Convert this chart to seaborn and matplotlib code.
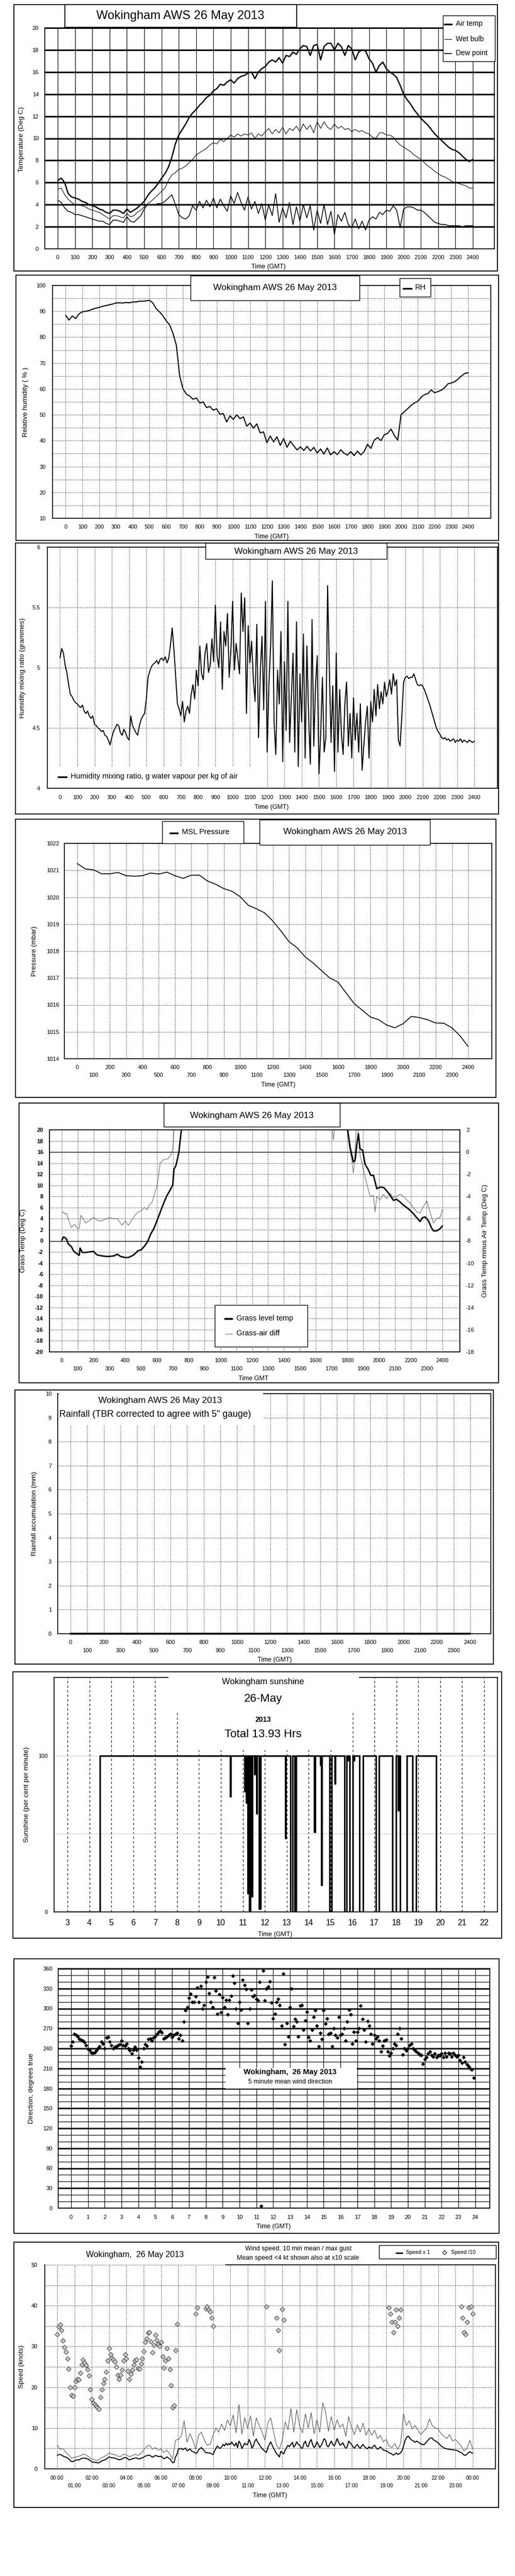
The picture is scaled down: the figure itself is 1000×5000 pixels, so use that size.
import numpy as np
import matplotlib
matplotlib.use("Agg")
import matplotlib.pyplot as plt
import seaborn as sns
from matplotlib.patches import Rectangle
from matplotlib.lines import Line2D

# ============================ DATA ============================
title_aws = "Wokingham AWS 26 May 2013"

# Panel 1: temperatures, one value every 20 units of the 0..2400 time axis
air_temp = [6.2, 6.4, 6.0, 5.0, 4.7, 4.6, 4.5, 4.3, 4.2, 4.0,
            3.9, 3.8, 3.6, 3.5, 3.3, 3.2, 3.5, 3.5, 3.4, 3.2,
            3.6, 3.3, 3.5, 3.7, 4.0, 4.3, 4.8, 5.2, 5.5, 5.9,
            6.4, 6.8, 7.4, 8.3, 9.5, 10.3, 10.8, 11.3, 11.9, 12.3,
            12.6, 13.0, 13.3, 13.7, 13.9, 14.3, 14.5, 14.9, 14.8, 15.1,
            15.3, 15.0, 15.4, 15.6, 15.7, 15.9, 16.0, 15.4, 16.0, 16.3,
            16.5, 16.9, 17.1, 16.9, 17.3, 16.8, 17.5, 17.4, 17.8, 17.6,
            18.1, 18.4, 18.3, 17.5, 18.4, 18.5, 17.1, 18.3, 18.6, 18.6,
            18.0, 18.6, 18.3, 17.5, 18.4, 18.1, 17.1, 17.8, 18.0, 17.9,
            17.2, 16.8, 16.0, 16.6, 16.9, 16.3, 16.0, 15.8, 15.5, 14.8,
            14.0, 13.5, 13.1, 12.6, 12.2, 11.8, 11.5, 11.2, 10.8, 10.4,
            10.1, 9.8, 9.5, 9.2, 9.0, 8.9, 8.7, 8.4, 8.1, 7.9, 8.1]
wet_bulb = [5.4, 5.5, 4.9, 4.5, 4.2, 4.0, 4.0, 3.9, 3.8, 3.6,
            3.5, 3.4, 3.3, 3.1, 2.9, 2.7, 3.0, 3.0, 2.9, 2.8,
            3.2, 2.9, 3.0, 3.3, 3.5, 3.8, 4.1, 4.3, 4.6, 4.9,
            5.2, 5.5, 6.2, 6.7, 6.9, 7.2, 7.3, 7.5, 7.8, 8.1,
            8.5, 8.7, 8.9, 9.1, 9.4, 9.6, 9.5, 9.9, 9.7, 10.0,
            10.3, 10.1, 10.4, 10.2, 10.4, 10.3, 10.5, 10.0, 10.4, 10.2,
            10.6, 10.9, 10.4, 10.8, 10.5, 11.0, 10.4, 10.9, 10.7, 11.1,
            10.6, 11.3, 10.8, 11.2, 10.5, 11.5, 10.9, 11.5, 11.0, 10.8,
            11.3, 10.9, 11.1, 10.8, 10.9, 10.6, 10.8, 10.6, 10.7, 10.5,
            10.4, 10.1, 10.0, 10.5, 10.5, 10.3, 10.3, 10.1, 9.7, 9.4,
            9.2, 9.0, 8.8, 8.5, 8.3, 8.1, 7.8, 7.5, 7.3, 7.0,
            6.8, 6.6, 6.5, 6.3, 6.1, 6.0, 5.9, 5.8, 5.7, 5.5, 5.5]
dew_point = [4.4, 4.2, 3.7, 3.4, 3.3, 3.1, 3.1, 3.0, 2.9, 2.8,
             2.7, 2.6, 2.5, 2.5, 2.3, 2.2, 2.6, 2.6, 2.5, 2.4,
             2.9, 2.5, 2.4, 2.7, 3.0, 3.6, 4.0, 4.0, 4.0, 4.1,
             4.1, 4.3, 4.6, 4.9, 4.0, 3.1, 2.8, 2.7, 3.0, 3.9,
             3.5, 4.3, 3.7, 4.4, 3.8, 4.6, 3.7, 4.5, 3.9, 3.4,
             4.8, 4.1, 5.1, 4.2, 3.5, 4.7, 3.6, 4.3, 3.2, 4.1,
             2.6, 4.0, 3.0, 5.0, 2.4, 3.7, 2.8, 4.2, 2.2, 3.8,
             2.5, 4.0, 2.8, 3.9, 1.7, 3.5, 2.3, 4.0, 2.2, 3.4,
             1.3, 3.1, 2.5, 3.3, 2.2, 1.9, 2.7, 1.8, 2.5, 1.7,
             2.6, 2.9, 2.7, 3.3, 3.1, 3.5, 3.4, 3.9, 3.5, 1.9,
             3.6, 3.8, 3.8, 3.7, 3.5, 3.5, 3.3, 3.0, 2.7, 2.4,
             2.3, 2.2, 2.2, 2.1, 2.1, 2.1, 2.1, 2.0, 2.1, 2.1, 2.1]

# Panel 2: relative humidity (%), every 20 units
rel_hum = [88.5, 86.6, 88.2, 87.2, 89.0, 89.8, 90.0, 90.3, 90.8, 91.2,
           91.5, 91.9, 92.2, 92.5, 92.8, 93.2, 93.3, 93.2, 93.4, 93.3,
           93.6, 93.6, 93.9, 93.9, 94.0, 94.3, 93.2, 91.0, 89.8, 88.3,
           86.3, 84.8, 81.5, 77.0, 65.0, 60.0, 58.0, 57.2, 56.0, 56.5,
           54.5, 55.0, 52.8, 53.2, 51.8, 52.3, 50.2, 50.5, 47.2, 49.6,
           48.2, 50.0, 48.5, 49.2, 45.6, 46.8, 44.8, 46.5, 43.0, 43.4,
           39.2, 41.8, 39.5, 41.5, 38.2, 40.8, 37.4, 39.8, 38.0, 36.4,
           37.6, 36.2, 37.8, 36.0, 37.4, 35.2, 36.8, 34.8, 37.2, 34.5,
           35.8, 34.6, 36.5, 35.2, 34.4, 35.8, 34.2, 36.0, 34.5, 35.8,
           38.6, 37.0, 40.2, 41.2, 40.0, 42.3, 42.8, 44.5, 42.0, 40.2,
           50.0, 51.2, 52.4, 53.6, 54.6, 55.2, 56.8, 57.8, 58.2, 59.6,
           58.5, 59.0, 59.5, 60.5, 62.0, 62.3, 62.8, 63.8, 65.0, 66.0, 66.2]

# Panel 3: humidity mixing ratio (g/kg), every 10 units
mix_ratio = [5.08, 5.16, 5.12, 5.02, 4.96, 4.86, 4.78, 4.76, 4.73, 4.71,
             4.70, 4.68, 4.67, 4.69, 4.64, 4.62, 4.64, 4.60, 4.58, 4.60,
             4.53, 4.52, 4.50, 4.49, 4.47, 4.48, 4.44, 4.43, 4.40, 4.36,
             4.42, 4.47, 4.50, 4.53, 4.52, 4.46, 4.44, 4.49, 4.46, 4.42,
             4.40, 4.60, 4.52, 4.49, 4.46, 4.44, 4.52, 4.57, 4.60, 4.62,
             4.74, 4.92, 4.97, 5.01, 5.03, 5.04, 5.06, 5.03, 5.07, 5.08,
             5.06, 5.09, 5.04, 5.08, 5.19, 5.33, 5.15, 4.93, 4.70, 4.66,
             4.60, 4.72, 4.55, 4.64, 4.68, 4.62, 4.78, 4.86, 4.74, 4.98,
             4.85, 5.18, 4.95, 4.90, 5.12, 5.20, 4.96, 5.02, 5.24, 5.05,
             5.52, 5.10, 5.00, 5.38, 4.82, 5.30, 5.18, 5.45, 4.92, 5.15,
             5.55, 4.98, 5.20, 5.08, 4.95, 5.62, 5.30, 5.58, 4.62, 5.35,
             5.04, 5.22, 4.90, 4.72, 5.36, 4.42, 4.95, 5.26, 4.65, 5.55,
             4.30, 4.85, 5.18, 5.72, 4.55, 4.28, 4.98, 4.70, 5.30, 4.22,
             5.05, 4.48, 5.55, 4.38, 4.75, 5.12, 4.30, 5.38, 4.18, 4.95,
             4.55, 5.28, 4.25, 5.18, 4.60, 4.20, 5.40, 4.35, 4.85, 5.10,
             4.12, 4.45, 4.92, 4.30, 4.42, 5.68, 5.00, 4.38, 4.85, 4.14,
             5.12, 4.30, 4.82, 4.45, 4.28, 4.70, 4.88, 4.35, 4.62, 4.25,
             4.75, 4.40, 4.62, 4.30, 4.70, 4.15, 4.36, 4.55, 4.68, 4.25,
             4.72, 4.55, 4.82, 4.60, 4.86, 4.66, 4.80, 4.70, 4.88, 4.76,
             4.82, 4.90, 4.78, 4.95, 4.85, 4.90, 4.40, 4.35, 4.60, 4.88,
             4.92, 4.93, 4.91, 4.92, 4.92, 4.95, 4.90, 4.86, 4.85, 4.86,
             4.85, 4.82, 4.78, 4.74, 4.70, 4.65, 4.60, 4.55, 4.50, 4.47,
             4.45, 4.42, 4.41, 4.42, 4.40, 4.41, 4.39, 4.40, 4.41, 4.38,
             4.40, 4.39, 4.41, 4.38, 4.40, 4.39, 4.38, 4.40, 4.39, 4.38, 4.39]

# Panel 4: MSL pressure (mbar), every 50 units
msl_pressure = [1021.25, 1021.05, 1021.02, 1020.87, 1020.87, 1020.92, 1020.80, 1020.78, 1020.80, 1020.90,
                1020.86, 1020.93, 1020.80, 1020.70, 1020.82, 1020.82, 1020.60, 1020.48, 1020.32, 1020.22,
                1020.02, 1019.70, 1019.57, 1019.42, 1019.12, 1018.75, 1018.35, 1018.12, 1017.78, 1017.55,
                1017.27, 1017.00, 1016.85, 1016.45, 1016.05, 1015.80, 1015.55, 1015.45, 1015.25, 1015.15,
                1015.30, 1015.57, 1015.53, 1015.45, 1015.33, 1015.32, 1015.15, 1014.85, 1014.45]

# Panel 5: grass temperature (left axis) and grass-air difference (right axis)
grass_am_t = [0, 10, 20, 30, 40, 50, 60, 70, 80, 100, 110, 115, 130, 150, 170, 200, 220, 250, 280, 300,
              330, 350, 370, 400, 420, 450, 480, 500, 520, 540, 560, 580, 600, 630, 660, 680, 700, 707,
              720, 738, 747, 760]
grass_am_v = [0.1, 0.7, 0.6, 0.3, -0.5, -0.8, -1.0, -1.6, -2.0, -2.4, -2.6, -1.3, -2.1, -2.1, -2.0, -1.9,
              -2.5, -2.7, -2.8, -2.8, -2.7, -2.4, -2.8, -3.0, -3.0, -2.6, -1.8, -1.6, -1.0, -0.2, 1.2, 2.2,
              3.6, 5.9, 8.0, 9.0, 10.1, 12.9, 13.6, 15.9, 18.3, 21.5]
grass_pm_t = [1795, 1817, 1838, 1849, 1860, 1870, 1880, 1897, 1912, 1933, 1948, 1965, 1986, 2007, 2030,
              2049, 2070, 2091, 2110, 2133, 2155, 2175, 2196, 2217, 2240, 2259, 2275, 2291, 2312, 2330,
              2343, 2364, 2385, 2400]
grass_pm_v = [21.5, 17.0, 14.2, 14.5, 17.3, 19.3, 16.6, 16.3, 13.8, 12.8, 11.8, 11.8, 9.4, 9.7, 9.6,
              9.0, 8.2, 7.3, 7.5, 7.0, 6.4, 6.0, 5.5, 4.9, 4.1, 3.5, 4.2, 4.3, 3.6, 2.4, 1.8, 1.8, 2.2, 2.7]
diff_am_t = [0, 10, 20, 30, 40, 50, 60, 80, 100, 110, 120, 150, 200, 230, 250, 300, 330, 350, 370, 380,
             400, 420, 450, 480, 500, 520, 540, 550, 570, 580, 590, 600, 610, 620, 640, 670, 690, 700,
             705, 712]
diff_am_v = [-5.5, -5.4, -5.6, -5.5, -6.0, -6.4, -6.8, -6.5, -6.9, -6.9, -5.7, -6.4, -5.9, -6.2, -6.2,
             -5.9, -6.0, -6.0, -6.4, -6.6, -6.2, -6.6, -5.9, -5.4, -5.3, -5.0, -5.2, -4.8, -4.5, -4.0,
             -3.5, -3.1, -2.1, -1.0, -0.7, -0.6, -0.2, 0.3, 1.5, 2.6]
diff_mid_t = [1703, 1712, 1721]
diff_mid_v = [2.4, 1.1, 2.4]
diff_pm_t = [1794, 1813, 1828, 1838, 1844, 1849, 1857, 1866, 1880, 1901, 1922, 1944, 1965, 1975, 1986,
             2007, 2028, 2049, 2070, 2090, 2112, 2133, 2154, 2175, 2196, 2217, 2238, 2259, 2280, 2301,
             2322, 2343, 2364, 2385, 2400]
diff_pm_v = [2.5, 0.5, -0.7, -1.9, -1.2, 0.0, 2.3, 2.3, -0.2, -1.6, -2.8, -4.0, -3.9, -5.4, -4.0,
             -4.3, -3.8, -4.2, -3.7, -4.1, -4.0, -3.8, -4.0, -4.3, -4.6, -5.0, -5.4, -5.5, -4.9, -4.4,
             -5.4, -6.4, -6.0, -5.9, -5.2]

# Panel 6: rainfall accumulation (mm)
rain_t = [0, 2400]
rain_mm = [0.0, 0.0]

# Panel 7: sunshine (% per minute), value held from each time (hours) to the next
sun_hour = [3.0, 4.47, 10.43, 10.45, 11.07, 11.10, 11.15, 11.18, 11.22, 11.26, 11.30, 11.34, 11.38, 11.42,
            11.53, 11.56, 11.62, 11.65, 11.73, 11.80, 12.93, 12.96, 13.18, 13.27, 13.35, 13.42,
            14.26, 14.29, 14.52, 14.55, 14.58, 14.61, 14.96, 15.05, 15.19, 15.22,
            15.64, 15.72, 15.76, 15.79, 15.86, 16.02, 16.05, 16.08, 16.32, 16.48, 17.06, 17.20,
            17.82, 17.98, 18.08, 18.12, 18.16, 18.48, 18.73, 18.90, 19.82, 22.0]
sun_pct = [0, 100, 74, 100, 77, 100, 70, 100, 12, 100, 0, 100, 10, 100,
           88, 100, 63, 100, 2, 100, 47, 100, 0, 100, 0, 100,
           51, 100, 94, 100, 17, 100, 0, 100, 82, 100,
           0, 100, 97, 100, 0, 100, 97, 100, 0, 100, 0, 100,
           0, 100, 65, 100, 0, 100, 0, 100, 0, 0]
sun_ticks = list(range(3, 23))

# Panel 8: wind direction (deg), 10 values per hour
wind_dir = [244, 250, 262, 260, 258, 254, 253, 252, 249, 245,
            239, 238, 234, 233, 234, 237, 240, 243, 250, 247,
            240, 256, 257, 250, 245, 240, 242, 243, 245, 246,
            252, 245, 244, 247, 240, 237, 232, 238, 242, 238,
            226, 212, 220, 240, 246, 244, 254, 255, 252, 256,
            258, 262, 265, 266, 264, 255, 256, 258, 260, 262,
            257, 260, 262, 263, 255, 260, 252, 280, 297, 302,
            316, 322, 310, 310, 318, 331, 310, 334, 300, 305,
            340, 348, 323, 310, 302, 347, 327, 292, 321, 294,
            317, 302, 313, 291, 313, 319, 349, 338, 300, 278,
            310, 298, 343, 335, 329, 278, 300, 328, 318, 320,
            314, 312, 340, 3, 357, 312, 330, 333, 341, 309,
            285, 292, 310, 314, 305, 274, 352, 246, 278, 258,
            302, 330, 273, 284, 280, 258, 304, 305, 268, 282,
            295, 257, 252, 268, 287, 297, 274, 243, 263, 254,
            297, 277, 285, 262, 263, 243, 270, 260, 256, 287,
            260, 262, 270, 252, 280, 298, 291, 247, 265, 252,
            265, 270, 304, 284, 268, 250, 281, 274, 262, 247,
            260, 255, 258, 252, 235, 244, 252, 253, 235, 229,
            233, 240, 247, 245, 262, 270, 255, 231, 240, 237,
            240, 245, 247, 240, 238, 235, 233, 231, 230, 217,
            224, 227, 232, 235, 230, 228, 232, 227, 230, 229,
            232, 227, 233, 228, 233, 232, 228, 233, 230, 228,
            230, 222, 218, 227, 220, 216, 213, 210, 208, 196]

# Panel 9: 10-min mean wind speed (knots), 12 values per hour (5-min steps)
wind_mean = [3.30, 3.48, 3.53, 3.40, 3.15, 2.98, 2.86, 2.70, 2.45, 2.00, 1.80, 1.78,
             2.00, 2.15, 2.20, 2.18, 2.35, 2.55, 2.68, 2.60, 2.54, 2.44, 2.28, 1.95,
             1.70, 1.62, 1.58, 1.54, 1.50, 1.46, 1.75, 1.95, 2.10, 2.20, 2.38, 2.65,
             2.95, 2.80, 2.72, 2.68, 2.62, 2.50, 2.30, 2.20, 2.30, 2.43, 2.65, 2.80,
             2.70, 2.40, 2.20, 2.32, 2.43, 2.55, 2.65, 2.68, 2.46, 2.45, 2.58, 2.70,
             2.88, 3.10, 3.20, 3.33, 3.35, 3.12, 2.85, 3.03, 3.28, 3.16, 3.06, 3.01,
             3.10, 2.75, 2.48, 2.65, 2.95, 2.70, 2.44, 2.05, 1.50, 1.55, 2.90, 3.55,
             4.80, 4.90, 5.00, 4.70, 4.90, 5.10, 4.40, 4.60, 4.90, 4.40, 4.20, 4.10,
             3.80, 3.95, 4.60, 5.00, 5.20, 4.80, 4.40, 3.93, 3.98, 3.90, 3.85, 3.70,
             3.50, 4.30, 5.00, 5.60, 5.20, 5.00, 5.40, 6.00, 5.60, 6.30, 5.80, 6.20,
             5.90, 6.60, 6.00, 5.60, 6.40, 5.20, 6.80, 6.20, 5.00, 5.60, 6.30, 5.90,
             6.00, 7.20, 6.40, 5.10, 5.60, 6.80, 7.30, 6.50, 6.00, 5.40, 5.00, 4.60,
             4.30, 3.98, 5.20, 6.00, 6.60, 5.80, 5.00, 4.40, 3.70, 3.40, 2.90, 4.30,
             3.92, 3.65, 4.60, 5.20, 5.80, 5.40, 6.00, 6.50, 5.30, 5.80, 6.60, 6.00,
             5.80, 5.20, 5.00, 6.20, 6.80, 5.60, 5.40, 6.60, 7.20, 6.00, 5.20, 5.60,
             6.60, 6.00, 5.20, 5.80, 6.50, 7.40, 7.00, 5.60, 5.40, 6.20, 6.80, 6.00,
             5.60, 6.40, 7.40, 6.60, 5.80, 6.00, 6.40, 5.60, 5.00, 5.40, 6.80, 6.40,
             6.00, 5.40, 5.00, 5.60, 6.00, 5.40, 5.00, 5.60, 6.00, 5.40, 5.10, 4.90,
             5.40, 5.20, 5.00, 5.50, 5.80, 5.20, 4.80, 5.00, 5.40, 5.00, 4.60, 4.50,
             4.40, 4.20, 3.95, 3.80, 3.60, 3.35, 3.60, 3.90, 3.50, 3.70, 3.90, 4.50,
             5.60, 6.80, 7.60, 8.00, 7.80, 7.20, 7.00, 6.80, 6.50, 6.80, 6.60, 6.40,
             6.10, 6.00, 5.90, 6.20, 6.60, 7.00, 7.40, 7.60, 7.50, 7.00, 6.90, 6.60,
             6.40, 6.00, 5.60, 5.40, 5.10, 5.00, 4.90, 4.80, 4.80, 4.70, 4.70, 4.60,
             4.60, 4.50, 4.30, 4.10, 3.98, 3.70, 3.35, 3.30, 3.60, 3.95, 4.20, 3.98, 3.80]
# max gust (knots), 6 values per hour (10-min steps)
wind_gust = [5.8, 4.8, 5.0, 4.0, 3.4, 2.6,
             2.8, 3.0, 3.2, 3.6, 3.4, 2.9,
             2.4, 2.2, 2.0, 2.6, 2.9, 3.3,
             3.9, 3.6, 3.5, 3.1, 3.0, 3.6,
             3.4, 3.0, 3.2, 3.6, 3.3, 3.8,
             4.6, 5.5, 5.8, 4.8, 5.2, 4.6,
             4.8, 4.0, 4.6, 3.6, 2.4, 7.0,
             7.3, 8.0, 11.8, 6.5, 8.6, 7.0,
             4.8, 8.2, 9.0, 7.0, 5.8, 6.0,
             8.2, 10.0, 9.0, 11.0, 9.4, 12.0,
             10.5, 13.2, 8.8, 15.8, 8.5, 12.5,
             10.0, 13.0, 8.0, 12.5, 10.6, 9.0,
             7.0, 11.2, 12.5, 9.0, 5.8, 4.8,
             7.0, 11.5, 9.6, 14.8, 9.0, 14.5,
             10.5, 8.8, 13.5, 10.0, 13.8, 8.6,
             12.0, 9.0, 16.2, 14.0, 9.2, 12.8,
             9.5, 12.0, 10.2, 11.0, 8.0, 12.8,
             10.2, 8.4, 10.8, 9.0, 11.2, 8.2,
             9.8, 8.2, 9.5, 7.4, 8.2, 6.6,
             7.2, 5.6, 5.2, 6.2, 4.8, 6.2,
             13.5, 10.6, 11.8, 9.8, 10.6, 9.5,
             8.4, 9.2, 10.0, 12.2, 10.6, 10.0,
             9.8, 8.6, 8.0, 7.4, 8.4, 6.8,
             7.2, 6.4, 5.6, 4.4, 5.0, 7.0, 4.8]
low_speed_limit = 4.0   # mean speeds below this are also shown at x10 scale

# ============================ STYLE ============================
sns.set_style("white", {"axes.edgecolor": "black", "xtick.color": "black", "ytick.color": "black",
                        "text.color": "black", "axes.labelcolor": "black"})
plt.rcParams["font.family"] = ["Liberation Sans", "DejaVu Sans"]
plt.rcParams["axes.linewidth"] = 1.2

W, H = 1000, 5000
fig = plt.figure(figsize=(10, 50), dpi=100)
fig.patch.set_facecolor("white")

DOT = dict(color="black", linestyle=(0, (1, 2)), linewidth=0.8)
GREY_LINE = "#7a7a7a"


def fb(l, t, r, b):
    return [l / W, 1 - b / H, (r - l) / W, (b - t) / H]


def frame(l, t, r, b, lw=1.3, fill=False, edge=True, z=5):
    fig.add_artist(Rectangle((l / W, 1 - b / H), (r - l) / W, (b - t) / H, transform=fig.transFigure,
                             facecolor="white" if fill else "none",
                             edgecolor="black" if edge else "none",
                             linewidth=lw if edge else 0, zorder=z))


def ftext(x, y, s, **kw):
    kw.setdefault("ha", "center")
    kw.setdefault("va", "center")
    fig.text(x / W, 1 - y / H, s, zorder=8, **kw)


def fline(x0, x1, y, **kw):
    fig.add_artist(Line2D([x0 / W, x1 / W], [1 - y / H, 1 - y / H], transform=fig.transFigure,
                          zorder=8, **kw))


def fmark(x, y, **kw):
    fig.add_artist(Line2D([x / W], [1 - y / H], transform=fig.transFigure, linestyle="none",
                          zorder=8, **kw))


def line(ax, x, y, **kw):
    sns.lineplot(x=np.asarray(x, float), y=np.asarray(y, float), ax=ax, estimator=None,
                 errorbar=None, sort=False, legend=False, **kw)


def labels(ax, box, xlabel=None, xpos=None, ylabel=None, ypos=None, xfs=9, yfs=9.7):
    l, t, r, b = box
    if xlabel is not None:
        ax.set_xlabel(xlabel, fontsize=xfs, va="center", ha="center")
        ax.xaxis.set_label_coords((xpos[0] - l) / (r - l), (b - xpos[1]) / (b - t))
    if ylabel is not None:
        ax.set_ylabel(ylabel, fontsize=yfs, va="center", ha="center")
        ax.yaxis.set_label_coords((ypos[0] - l) / (r - l), (b - ypos[1]) / (b - t))


def hhmm_ticks(ax, two_row, pad1=8.6, pad2=20):
    if two_row:
        ev = np.arange(0, 2401, 200)
        od = np.arange(100, 2400, 200)
        ax.set_xticks(ev, labels=[str(v) for v in ev])
        ax.set_xticks(od, labels=[str(v) for v in od], minor=True)
        ax.tick_params(axis="x", which="major", length=0, pad=pad1, labelsize=8)
        ax.tick_params(axis="x", which="minor", length=0, pad=pad2, labelsize=8)
    else:
        tk = np.arange(0, 2401, 100)
        ax.set_xticks(tk, labels=[str(v) for v in tk])
        ax.tick_params(axis="x", length=0, pad=pad1, labelsize=8)


def axes_rect(ax, box, l, t, r, b, z=2.6):
    L, T, R, B = box
    ax.add_patch(Rectangle(((l - L) / (R - L), (B - b) / (B - T)), (r - l) / (R - L), (b - t) / (B - T),
                           transform=ax.transAxes, facecolor="white", edgecolor="none",
                           zorder=z, clip_on=False))


# ============================ PANEL 1: temperature ============================
box = (87, 54, 960, 483)
ax = fig.add_axes(fb(*box))
line(ax, np.linspace(0, 2400, len(dew_point)), dew_point, color="black", linewidth=1.1)
line(ax, np.linspace(0, 2400, len(wet_bulb)), wet_bulb, color="black", linewidth=0.8)
line(ax, np.linspace(0, 2400, len(air_temp)), air_temp, color="black", linewidth=1.8)
ax.set_xlim(-75, 2525)
ax.set_ylim(0, 20)
hhmm_ticks(ax, False, pad1=8.6)
ax.set_yticks(np.arange(0, 21, 2))
ax.tick_params(axis="y", length=0, pad=8.6, labelsize=8)
ax.grid(axis="x", color="black", linewidth=0.8)
ax.grid(axis="y", color="black", linewidth=2.2)
ax.set_axisbelow(True)
labels(ax, box, "Time (GMT)", (521, 518), "Temperature (Deg C)", (42, 270))
frame(27, 9, 966, 526)
frame(126, 9, 576, 53, fill=True)
ftext(350, 31, title_aws, fontsize=17)
frame(860, 30, 961, 119, fill=True, lw=1.0)
fline(863, 877, 46.5, color="black", linewidth=2.4)
ftext(885, 46, "Air temp", fontsize=10, ha="left")
fline(863, 877, 76, color="black", linewidth=0.8)
ftext(885, 75.5, "Wet bulb", fontsize=10, ha="left")
fline(863, 877, 104, color="black", linewidth=1.2)
ftext(885, 103.5, "Dew point", fontsize=10, ha="left")

# ============================ PANEL 2: relative humidity ============================
box = (102, 554, 953, 1006)
ax = fig.add_axes(fb(*box))
line(ax, np.linspace(0, 2400, len(rel_hum)), rel_hum, color="black", linewidth=1.5)
ax.set_xlim(-78, 2535)
ax.set_ylim(10, 100)
hhmm_ticks(ax, False, pad1=8.6)
ax.set_yticks(np.arange(10, 101, 10))
ax.set_yticks(np.arange(15, 100, 10), minor=True)
ax.tick_params(axis="y", which="major", length=3, pad=6.5, labelsize=8)
ax.tick_params(axis="y", which="minor", length=0)
ax.grid(which="both", **DOT)
ax.set_axisbelow(True)
labels(ax, box, "Time (GMT)", (527, 1042), "Relative humidity ( % )", (50, 780))
frame(31, 534, 968, 1049)
frame(370, 535, 698, 583, fill=True, lw=1.0)
ftext(534, 559, title_aws, fontsize=12.5)
frame(776, 540, 836, 576, fill=True, lw=1.0)
fline(783, 799, 560, color="black", linewidth=2.4)
ftext(806, 558, "RH", fontsize=10.5, ha="left")

# ============================ PANEL 3: mixing ratio ============================
box = (92, 1062, 966, 1530)
ax = fig.add_axes(fb(*box))
line(ax, np.linspace(0, 2400, len(mix_ratio)), mix_ratio, color="black", linewidth=1.4)
ax.set_xlim(-73, 2534)
ax.set_ylim(4, 6)
hhmm_ticks(ax, False, pad1=9.4)
ax.set_yticks([4, 4.5, 5, 5.5, 6], labels=["4", "4.5", "5", "5.5", "6"])
ax.tick_params(axis="y", length=3, pad=7, labelsize=8)
ax.grid(**DOT)
ax.set_axisbelow(True)
axes_rect(ax, box, 94, 1488, 518, 1529, z=1.5)
labels(ax, box, "Time (GMT)", (527, 1567), "Humidity mixing ratio (grammes)", (44, 1296))
frame(30, 1054, 968, 1580)
frame(399, 1054, 751, 1085, fill=True, lw=1.0)
ftext(575, 1071, title_aws, fontsize=12.5)
fline(113, 129, 1508, color="black", linewidth=2.4)
ftext(137, 1507, "Humidity mixing ratio, g water vapour per kg of air", fontsize=10.5, ha="left")

# ============================ PANEL 4: pressure ============================
box = (125, 1637, 955, 2055)
ax = fig.add_axes(fb(*box))
line(ax, np.linspace(0, 2400, len(msl_pressure)), msl_pressure, color="black", linewidth=1.2)
ax.set_xlim(-79, 2545)
ax.set_ylim(1014, 1022)
hhmm_ticks(ax, True, pad1=8.6, pad2=19.4)
ax.set_yticks(np.arange(1014, 1023, 1))
ax.tick_params(axis="y", length=2, pad=5.5, labelsize=8)
ax.grid(which="both", axis="x", **DOT)
ax.grid(which="major", axis="y", **DOT)
ax.set_axisbelow(True)
labels(ax, box, "Time (GMT)", (540, 2106), "Pressure (mbar)", (67, 1846))
frame(30, 1590, 963, 2130)
frame(315, 1594, 473, 1637, fill=True, lw=1.0)
fline(330, 345, 1617, color="black", linewidth=2.4)
ftext(353, 1615, "MSL Pressure", fontsize=10.5, ha="left")
frame(504, 1591, 835, 1640, fill=True, lw=1.0)
ftext(670, 1615, title_aws, fontsize=12.5)

# ============================ PANEL 5: grass temperature ============================
box = (96, 2193, 893, 2624)
ax = fig.add_axes(fb(*box))
ax2 = ax.twinx()
ax.set_xlim(-78, 2510)
ax.set_ylim(-20, 20)
ax2.set_ylim(-18, 2)
line(ax2, diff_am_t, diff_am_v, color=GREY_LINE, linewidth=0.9)
line(ax2, diff_mid_t, diff_mid_v, color=GREY_LINE, linewidth=0.9)
line(ax2, diff_pm_t, diff_pm_v, color=GREY_LINE, linewidth=0.9)
line(ax, grass_am_t, grass_am_v, color="black", linewidth=2.0)
line(ax, grass_pm_t, grass_pm_v, color="black", linewidth=2.0)
ax.set_zorder(ax2.get_zorder() + 1)
ax.patch.set_visible(False)
hhmm_ticks(ax, True, pad1=8.6, pad2=20)
lt = np.arange(-20, 21, 2)
ax.set_yticks(lt, labels=[str(v) for v in lt], fontweight="bold")
ax.tick_params(axis="y", length=0, pad=8.6, labelsize=8)
rt = np.arange(-18, 3, 2)
ax2.set_yticks(rt, labels=[str(v) for v in rt])
ax2.tick_params(axis="y", length=0, pad=8.6, labelsize=8)
ax2.grid(False)
ax.grid(which="both", **DOT)
ax.axhline(16, color="black", linewidth=0.9, zorder=1)
ax.axhline(0, color="black", linewidth=0.9, zorder=1)
ax.set_axisbelow(True)
labels(ax, box, "Time GMT", (492, 2676), "Grass Temp (Deg C)", (45, 2408))
ax2.set_ylabel("Grass Temp minus Air Temp (Deg C)", fontsize=9.7, va="center", ha="center")
ax2.yaxis.set_label_coords((942 - box[0]) / (box[2] - box[0]), 0.5)
frame(37, 2141, 968, 2684)
frame(318, 2141, 660, 2187, fill=True, lw=1.0)
ftext(489, 2165, title_aws, fontsize=12.5)
frame(417, 2533, 597, 2614, fill=True, lw=1.0)
fline(437, 451, 2560, color="black", linewidth=2.6)
ftext(459, 2559, "Grass level temp", fontsize=10.5, ha="left")
fline(437, 451, 2589, color=GREY_LINE, linewidth=0.9)
ftext(459, 2588, "Grass-air diff", fontsize=10.5, ha="left")

# ============================ PANEL 6: rainfall ============================
box = (112, 2705, 953, 3171)
ax = fig.add_axes(fb(*box))
line(ax, rain_t, rain_mm, color="black", linewidth=2.6, clip_on=False)
ax.set_xlim(-77, 2524)
ax.set_ylim(0, 10)
hhmm_ticks(ax, True, pad1=8.6, pad2=20)
ax.set_yticks(np.arange(0, 11, 1))
ax.tick_params(axis="y", length=0, pad=8.6, labelsize=8)
ax.grid(which="both", axis="x", **DOT)
ax.grid(which="major", axis="y", **DOT)
ax.set_axisbelow(True)
axes_rect(ax, box, 113.5, 2699, 511, 2766)
labels(ax, box, "Time (GMT)", (533, 3222), "Rainfall accumulation (mm)", (67, 2938))
frame(29, 2698, 958, 3230)
ftext(311, 2718, title_aws, fontsize=12.5)
ftext(115, 2745, 'Rainfall (TBR corrected to agree with 5" gauge)', fontsize=12.8, ha="left")

# ============================ PANEL 7: sunshine ============================
box = (105, 3256, 966, 3711)
ax = fig.add_axes(fb(*box))
line(ax, sun_hour, sun_pct, color="black", linewidth=2.2, drawstyle="steps-post")
ax.set_xlim(2.39, 22.61)
ax.set_ylim(0, 150)
ax.set_xticks(sun_ticks, labels=[str(v) for v in sun_ticks])
ax.tick_params(axis="x", length=0, pad=10.4, labelsize=11.5)
ax.set_yticks([0, 50, 100], labels=["0", "", "100"])
ax.tick_params(axis="y", length=6, width=1, pad=3, labelsize=8)
ax.grid(axis="x", color="black", linestyle=(0, (4, 4)), linewidth=0.8)
ax.grid(axis="y", color="#9a9a9a", linestyle=(0, (1, 1.5)), linewidth=0.9)
ax.set_axisbelow(True)
axes_rect(ax, box, 327, 3246, 697, 3321)
axes_rect(ax, box, 345, 3320, 683, 3397)
labels(ax, box, "Time (GMT)", (534, 3755), "Sunshine (per cent per minute)", (52, 3483))
frame(25, 3245, 974, 3762)
ftext(511, 3265, "Wokingham sunshine", fontsize=12)
ftext(511, 3297, "26-May", fontsize=16)
ftext(511, 3338, "2013", fontsize=10, fontweight="bold")
ftext(511, 3367, "Total 13.93 Hrs", fontsize=16)

# ============================ PANEL 8: wind direction ============================
box = (113, 3821, 951, 4286)
ax = fig.add_axes(fb(*box))
dir_hours = np.arange(len(wind_dir)) / 10.0
sns.scatterplot(x=dir_hours, y=np.asarray(wind_dir, float), ax=ax, marker="D", s=16,
                color="black", linewidth=0, legend=False, zorder=3)
ax.set_xlim(-0.76, 24.86)
ax.set_ylim(0, 360)
hours = list(range(0, 25))
ax.set_xticks(hours, labels=[str(v) for v in hours])
ax.tick_params(axis="x", length=0, pad=9.4, labelsize=8)
ax.set_yticks(np.arange(0, 361, 30))
ax.set_yticks(np.arange(0, 361, 10), minor=True)
ax.tick_params(axis="y", which="major", length=0, pad=7.9, labelsize=8)
ax.tick_params(axis="y", which="minor", length=0)
ax.grid(axis="x", color="black", linewidth=0.8)
ax.grid(axis="y", which="minor", color="black", linewidth=0.8)
ax.grid(axis="y", which="major", color="black", linewidth=2.0)
ax.set_axisbelow(True)
labels(ax, box, "Time (GMT)", (531, 4322), "Direction, degrees true", (61, 4054))
frame(27, 3802, 969, 4335)
frame(438, 4014, 693, 4054, fill=True, edge=False)
ftext(563, 4022, "Wokingham,  26 May 2013", fontsize=10.5, fontweight="bold")
ftext(563, 4041, "5 minute mean wind direction", fontsize=9)

# ============================ PANEL 9: wind speed ============================
box = (87, 4396, 962, 4792)
ax = fig.add_axes(fb(*box))
mean_hours = np.arange(len(wind_mean)) / 12.0
gust_hours = np.arange(len(wind_gust)) / 6.0
mean_arr = np.asarray(wind_mean, float)
speed_x10 = np.where(mean_arr < low_speed_limit, mean_arr * 10, np.nan)
line(ax, gust_hours, wind_gust, color="#505050", linewidth=0.8)
line(ax, mean_hours, wind_mean, color="black", linewidth=1.4)
sns.scatterplot(x=mean_hours, y=speed_x10, ax=ax, marker="D", s=22, color="#c8c8c8",
                edgecolor="#222222", linewidth=0.6, legend=False, zorder=3)
ax.set_xlim(-0.714, 25.31)
ax.set_ylim(0, 50)
ev = list(range(0, 25, 2))
od = list(range(1, 24, 2))
ax.set_xticks(ev, labels=["%02d:00" % (h % 24) for h in ev])
ax.set_xticks(od, labels=["%02d:00" % h for h in od], minor=True)
ax.tick_params(axis="x", which="major", length=0, pad=9.7, labelsize=7.5)
ax.tick_params(axis="x", which="minor", length=0, pad=20.5, labelsize=7.5)
ax.set_yticks(np.arange(0, 51, 10))
ax.set_yticks(np.arange(5, 50, 10), minor=True)
ax.tick_params(axis="y", which="major", length=3, pad=7, labelsize=8)
ax.tick_params(axis="y", which="minor", length=3)
ax.grid(which="both", **DOT)
ax.set_axisbelow(True)
ax.spines["top"].set_bounds((438 - 111) / 33.625, 25.31)
labels(ax, box, "Time (GMT)", (524, 4844), "Speed (knots)", (42, 4594))
frame(27, 4352, 968, 4867)
ftext(262, 4376, "Wokingham,  26 May 2013", fontsize=11.5)
ftext(579, 4365, "Wind speed, 10 min mean / max gust", fontsize=9)
ftext(579, 4383, "Mean speed <4 kt shown also at x10 scale", fontsize=9)
frame(736, 4358, 963, 4384, lw=1.0)
fline(769, 781, 4373, color="black", linewidth=2.0)
ftext(788, 4372, "Speed x 1", fontsize=7.5, ha="left")
fmark(863, 4372, marker="D", markersize=4.5, markerfacecolor="white", markeredgecolor="black",
      markeredgewidth=0.8)
ftext(876, 4372, "Speed /10", fontsize=7.5, ha="left")

fig.savefig("out.png", dpi=100, facecolor="white")
